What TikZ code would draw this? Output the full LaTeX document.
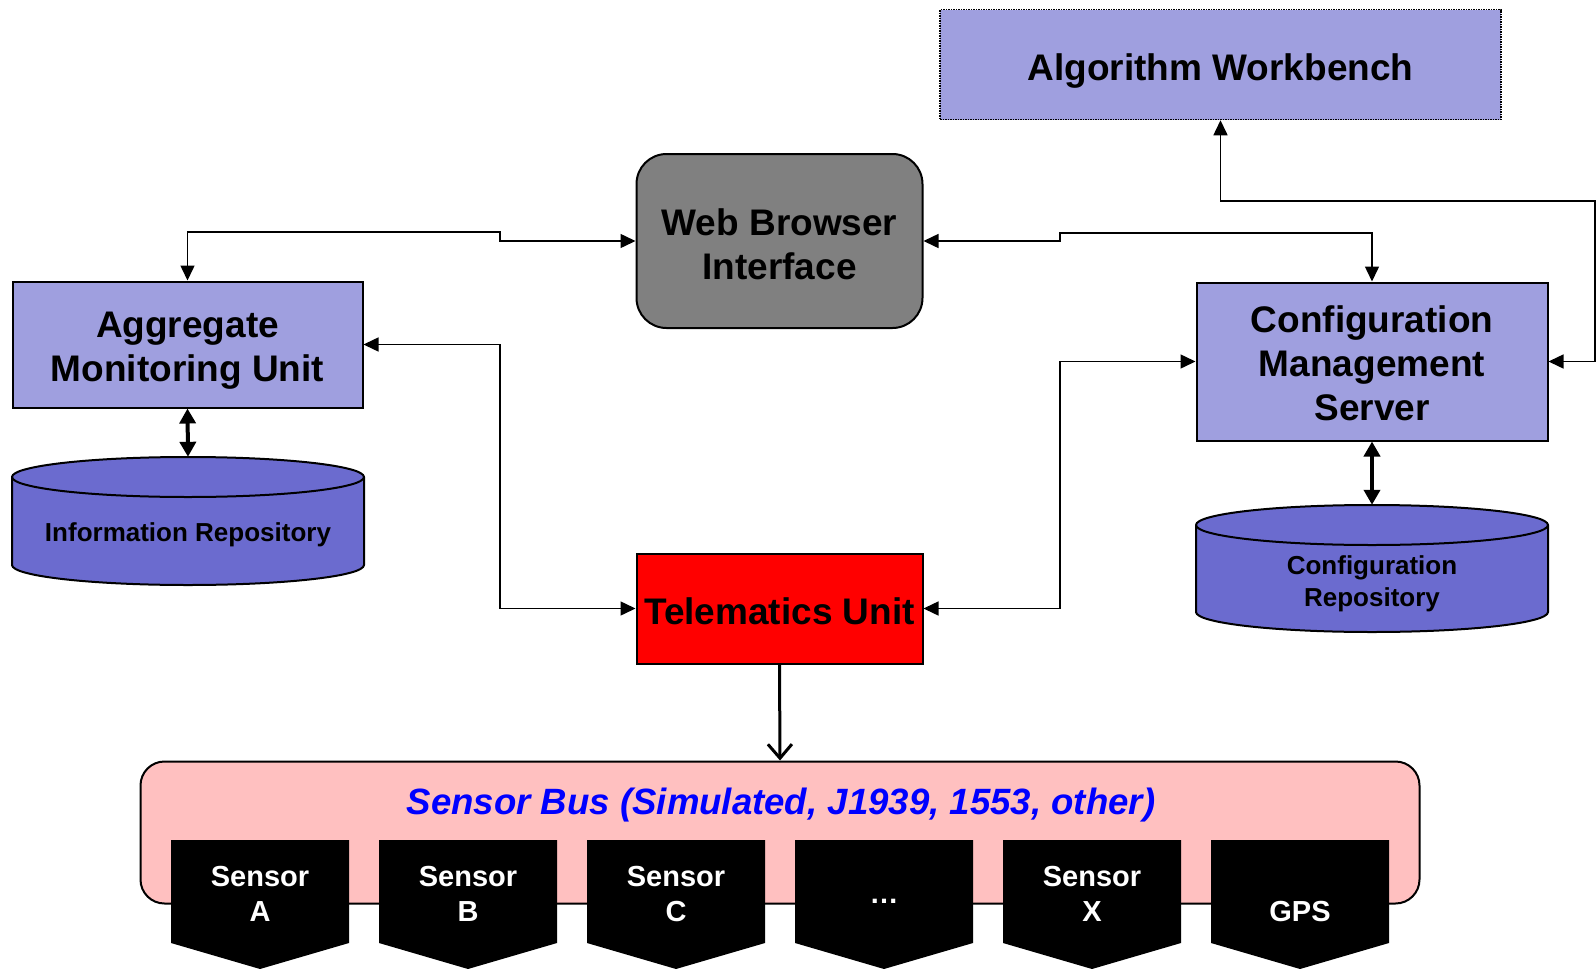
\documentclass[tikz,border=0pt]{standalone}
\usepackage{fontspec}
\setmainfont{Liberation Sans}
\usetikzlibrary{arrows.meta}
\definecolor{lav}{RGB}{159,159,223}
\definecolor{cylcol}{RGB}{107,107,207}
\definecolor{busfill}{RGB}{255,192,192}
\definecolor{webgray}{RGB}{128,128,128}
\newcommand\lift[1]{\rule{0pt}{#1pt}}
\begin{document}
\begin{tikzpicture}[x=1pt,y=-1pt,
  big/.style={font=\bfseries\fontsize{37}{44}\selectfont, align=center, inner sep=0pt},
  unitbox/.style={draw, line width=2pt, fill=lav, big},
  conn/.style={line width=1.5pt, {Triangle[length=15pt,width=14pt]}-{Triangle[length=15pt,width=14pt]}},
  thickconn/.style={line width=4pt, {Triangle[length=15pt,width=16pt]}-{Triangle[length=15pt,width=16pt]}},
  cylstyle/.style={fill=cylcol, draw, line width=2pt},
  repotext/.style={font=\bfseries\fontsize{26}{32}\selectfont, align=center, inner sep=0pt},
  sensortext/.style={font=\bfseries\fontsize{29}{35}\selectfont, align=center, text=white, inner sep=0pt},
]
\useasboundingbox (0,0) rectangle (1596,969);

% main boxes
\node[unitbox, draw=black, line width=1.5pt, dash pattern=on 1.5pt off 1pt,
      minimum width=561pt, minimum height=110pt] (aw) at (1220.5,64.5) {\lift{40}Algorithm Workbench};
\node[draw, line width=2pt, fill=webgray, rounded corners=30pt, big,
      minimum width=286pt, minimum height=174pt] (wbi) at (779.5,241) {\lift{34}Web Browser\\Interface};
\node[unitbox, minimum width=350pt, minimum height=126pt] (amu) at (187.5,344.5) {\lift{38}Aggregate\\Monitoring Unit};
\node[unitbox, minimum width=351pt, minimum height=158pt] (cms) at (1372,361.5) {\lift{31}Configuration\\Management\\Server};
\node[draw, line width=2pt, fill=red, big,
      minimum width=286pt, minimum height=110pt] (tu) at (779.5,608.5) {\lift{32}Telematics Unit};

% repositories (cylinders)
\node[minimum width=352pt, minimum height=128pt, inner sep=0pt] (ir) at (188,521) {};
\filldraw[cylstyle] (12,477) -- (12,565) arc[start angle=180,end angle=360,x radius=176pt,y radius=20pt]
  -- (364,477) arc[start angle=0,end angle=180,x radius=176pt,y radius=20pt] -- cycle;
\draw[line width=2pt] (12,477) arc[start angle=180,end angle=360,x radius=176pt,y radius=20pt];
\node[repotext] (irtext) at (188,535) {Information Repository};

\node[minimum width=352pt, minimum height=127pt, inner sep=0pt] (cr) at (1372,568.5) {};
\filldraw[cylstyle] (1196,525) -- (1196,612) arc[start angle=180,end angle=360,x radius=176pt,y radius=20pt]
  -- (1548,525) arc[start angle=0,end angle=180,x radius=176pt,y radius=20pt] -- cycle;
\draw[line width=2pt] (1196,525) arc[start angle=180,end angle=360,x radius=176pt,y radius=20pt];
\node[repotext] (crtext) at (1372,584) {Configuration\\Repository};

% sensor bus
\node[draw, line width=2pt, fill=busfill, rounded corners=24pt,
      minimum width=1279pt, minimum height=142pt] (bus) at (780,832.5) {};
\node[font=\bfseries\itshape\fontsize{36.6}{44}\selectfont, text=blue, inner sep=0pt] (bustitle) at (781,805)
  {Sensor Bus (Simulated, J1939, 1553, other)};

\foreach \i/\t/\y in {0/{Sensor\\A}/894,1/{Sensor\\B}/894,2/{Sensor\\C}/894,3/{…}/901,4/{Sensor\\X}/894,5/{GPS}/912} {
  \pgfmathsetmacro\xl{171+208*\i}
  \fill[black] (\xl,840) -- ++(178,0) -- ++(0,103) -- ++(-89,26) -- ++(-89,-26) -- cycle;
  \node[sensortext] (s\i) at (\xl+89,\y) {\t};
}

% connectors
\coordinate (jl) at (500,0);
\coordinate (jr) at (1060,0);
\draw[conn] (amu.north) |- (500,232) |- (wbi.west);
\draw[conn] (wbi.east) -| (1060,233) -| (cms.north);
\draw[conn] (amu.east) -| (jl |- tu.west) -- (tu.west);
\draw[conn] (cms.west) -| (jr |- tu.east) -- (tu.east);
\draw[conn] (aw.south) |- (1595,201) |- (cms.east);
\draw[thickconn] (amu.south) -- (ir.north);
\draw[thickconn] (cms.south) -- (cr.north);
\draw[line width=3pt, -{Straight Barb[length=14pt,width=24pt]}] (tu.south) -- (bus.north);
\end{tikzpicture}
\end{document}
